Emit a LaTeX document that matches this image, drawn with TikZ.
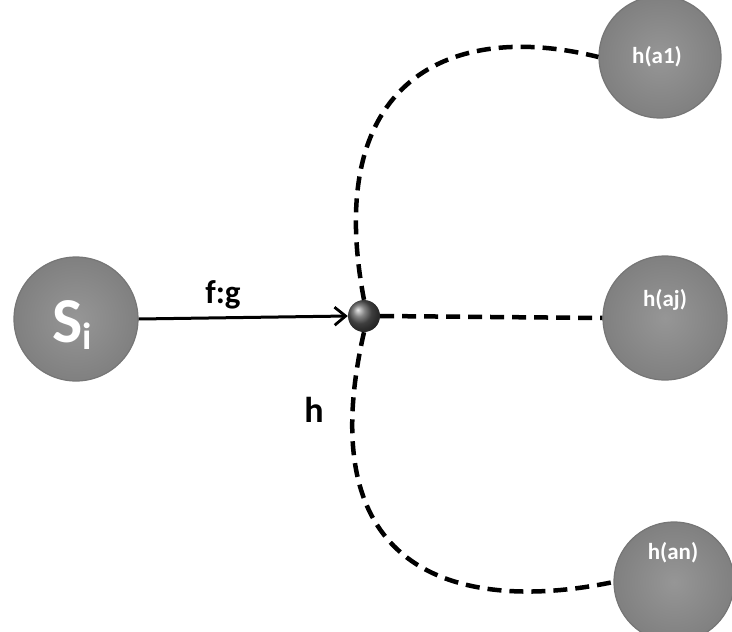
\documentclass[tikz,border=0pt]{standalone}
\usepackage{fontspec}
\setmainfont{Carlito}
\usetikzlibrary{arrows.meta}
\definecolor{ballgray}{RGB}{140,140,140}
\definecolor{balledge}{RGB}{118,118,118}
\begin{document}
\begin{tikzpicture}[x=1pt,y=-1pt,
  bignode/.style={circle,draw=balledge,line width=1.2pt,inner color={rgb,255:red,150;green,150;blue,150},outer color={rgb,255:red,128;green,128;blue,128},minimum size=#1},
  bignode/.default=122pt,
  hub/.style={circle,ball color=gray!70!black,minimum size=32pt,inner sep=0pt},
  dashline/.style={line width=4.5pt,dash pattern=on 14pt off 8pt},
  lbl/.style={font=\bfseries\fontsize{23}{25}\selectfont,text=white}]
\useasboundingbox (0,0) rectangle (732,632);
\node[bignode=124pt] (si) at (76,319) {};
\node[font=\bfseries,text=white,anchor=base] at (72,342) {\fontsize{64}{66}\selectfont S\raisebox{-7pt}{\fontsize{38}{40}\selectfont i}};
\node[hub] (hub) at (364,316) {};
\node[bignode=122pt] (a1) at (660,57) {};
\node[lbl] at (657,57) {h(a1)};
\node[bignode=124pt] (aj) at (665,318) {};
\node[lbl] at (665,300) {h(aj)};
\node[bignode=120pt] (an) at (674,582) {};
\node[lbl] at (673,553) {h(an)};
\draw[line width=3pt,-{Straight Barb[length=11pt,width=18pt,line width=2.8pt]}] (si.east) -- (hub.west);
\node[font=\bfseries\fontsize{33}{35}\selectfont] (fg) at (223,295) {f:g};
\node[font=\bfseries\fontsize{36}{38}\selectfont] (h) at (314,410) {h};
\draw[dashline] (hub.east) -- (aj.west);
\draw[dashline] (hub.north) .. controls (322,80) and (450,20) .. (a1.west);
\draw[dashline] (hub.south) .. controls (305,590) and (480,610) .. (an.west);
\end{tikzpicture}
\end{document}
